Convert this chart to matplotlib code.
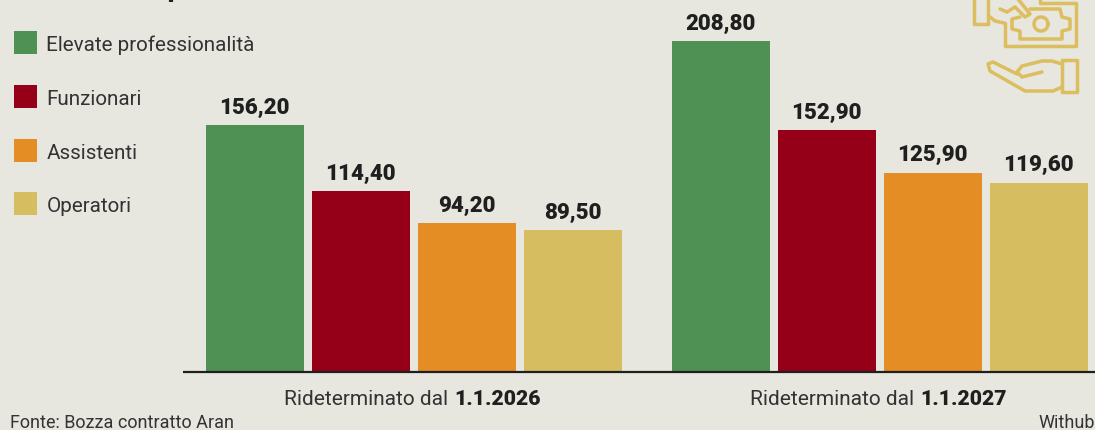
import matplotlib
matplotlib.use("Agg")
import numpy as np
import matplotlib.pyplot as plt
from matplotlib.patches import Rectangle

# data
gruppi = ["1.1.2026", "1.1.2027"]
categorie = ["Elevate professionalità", "Funzionari", "Assistenti", "Operatori"]
val_2026 = [156.20, 114.40, 94.20, 89.50]
val_2027 = [208.80, 152.90, 125.90, 119.60]
colori = ["#4F9054", "#950018", "#E38D24", "#D6BD60"]

BG = "#E7E6DF"
INK = "#1F1F1F"
TXT = "#333333"
ICON = "#DCBE5E"

plt.rcParams["font.family"] = ["Roboto", "DejaVu Sans"]

W, H = 1095, 431
fig = plt.figure(figsize=(W / 100, H / 100), dpi=100, facecolor=BG)

# overlay in pixel coordinates for legend, notes and icon
ov = fig.add_axes([0, 0, 1, 1])
ov.set_xlim(0, W)
ov.set_ylim(H, 0)
ov.axis("off")

# bars: one unit = bar spacing, 106 px; 1 value unit = 1.581 px
base_px = 372.6
scala = 1.581
ax = fig.add_axes([0, 0, 1, 1], facecolor="none")
ax.set_xlim(-255 / 106, (W - 255) / 106)
ax.set_ylim(-(H - base_px) / scala, base_px / scala)
ax.axis("off")

gap = 466 / 106
larg = 98 / 106
sotto = 1.2  # bars poke slightly under the baseline

for g, valori in enumerate([val_2026, val_2027]):
    x = np.arange(4) + g * gap
    ax.bar(x, np.array(valori) + sotto, bottom=-sotto, width=larg, color=colori, linewidth=0)
    for xi, v in zip(x, valori):
        ax.text(xi - 0.5 / 106, v + 7.7, f"{v:.2f}".replace(".", ","), ha="center", va="baseline",
                fontsize=16, fontweight=900, color=INK)
    # label split where the regular part ends, right of the group centre
    ax.text(x.mean() + 39.5 / 106, -20.3, "Rideterminato dal ", ha="right", va="baseline",
            fontsize=15, color=TXT)
    ax.text(x.mean() + 40 / 106, -20.3, gruppi[g], ha="left", va="baseline",
            fontsize=15.2, fontweight=900, color=INK)

ax.plot([-255 / 106 + 183 / 106, (W - 255) / 106], [0, 0], color=INK, lw=1.6, zorder=5,
        solid_capstyle="butt")

# legend
leg_y = [32, 86, 140, 193]
for nome, col, y in zip(categorie, colori, leg_y):
    ov.add_patch(Rectangle((14, y), 23, 23, color=col, lw=0))
    ov.text(46.5, y + 19, nome, fontsize=14.85, color=TXT, va="baseline", ha="left")

ov.text(10, 428, "Fonte: Bozza contratto Aran", fontsize=13, color=TXT, va="baseline")
ov.text(1095, 428, "Withub", fontsize=13, color=TXT, va="baseline", ha="right")

# stub of the cropped title
ov.plot([170.5, 170.5], [0, 3], color=INK, lw=3, solid_capstyle="butt")

# icon
def tratto(px, py):
    ov.plot(px, py, color=ICON, lw=2.5, solid_joinstyle="round", solid_capstyle="round")

tratto([974, 974, 988, 988], [0, 25, 25, 0])
tratto([990, 995, 1004], [18, 22, 24])
tratto([1005, 1005, 1076, 1076, 1040], [24, 47, 47, 4, 4])
tratto([1040, 1040], [0, 3])
tratto([1000, 1007, 1015, 1025, 1030, 1018], [10, 13, 8, 18, 15, 0])
tratto([1020, 1012, 1012, 1020, 1020, 1062, 1062, 1070, 1070, 1062, 1060, 1030],
       [18, 20, 30, 32, 40, 40, 32, 30, 20, 18, 10, 10])
t = np.linspace(0, 2 * np.pi, 40)
tratto(1041 + 7 * np.cos(t), 25 + 7 * np.sin(t))
tratto([1062, 1062, 1077, 1077, 1062], [61, 93, 93, 61, 61])
tratto([1062, 1052, 1042, 1022, 1017, 1022, 1042], [65, 62, 62, 67, 73, 78, 73])
tratto([1062, 1053, 1025, 990, 988, 993, 1017], [88, 92, 92, 72, 65, 63, 75])

fig.savefig("out.png", dpi=100, facecolor=BG)
